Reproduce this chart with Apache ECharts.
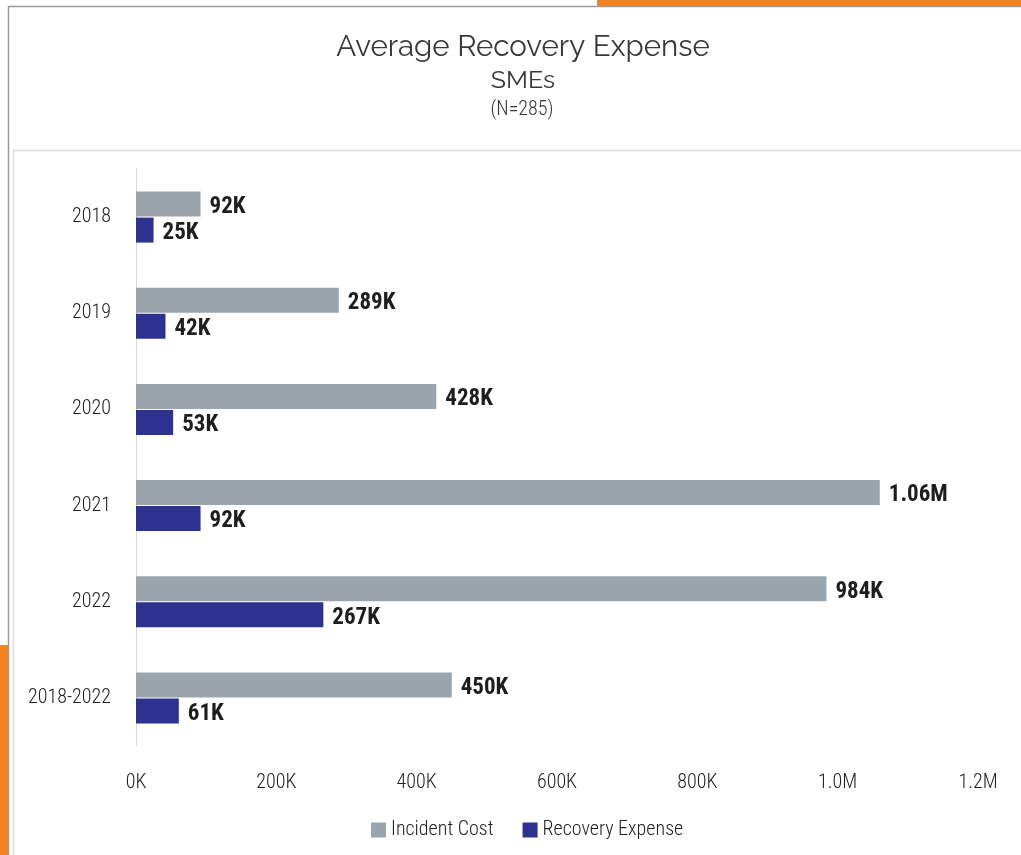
<!DOCTYPE html>
<html>
<head>
<meta charset="utf-8">
<script src="https://cdn.jsdelivr.net/npm/echarts@6/dist/echarts.min.js"></script>
<style>
  html, body { margin: 0; padding: 0; background: #fff; }
  #chart { width: 1021px; height: 855px; }
</style>
</head>
<body>
<div id="chart"></div>
<script>
// Yearly averages for SMEs
const categories = ['2018', '2019', '2020', '2021', '2022', '2018-2022'];
const incidentCost = [92000, 289000, 428000, 1060000, 984000, 450000];
const recoveryExpense = [25000, 42000, 53000, 92000, 267000, 61000];
const xTicks = { min: 0, max: 1200000, interval: 200000 };

const narrow = '"Roboto Condensed", Roboto, sans-serif';
const heading = 'Raleway, Lato, sans-serif';

function fmt(v) {
  if (v >= 1000000) return (v / 1000000).toFixed(2) + 'M';
  return Math.round(v / 1000) + 'K';
}

const chart = echarts.init(document.getElementById('chart'), null, { renderer: 'canvas' });

const valueLabel = {
  show: true,
  position: 'right',
  distance: 9,
  offset: [0, 3],
  fontFamily: narrow,
  fontSize: 23,
  fontWeight: 'bold',
  color: '#1e1e1e',
  formatter: p => fmt(p.value)
};

chart.setOption({
  backgroundColor: '#fff',
  animation: false,
  graphic: [
    // frame lines and accent bars
    { type: 'rect', shape: { x: 597, y: 0, width: 424, height: 6 }, style: { fill: '#F58220' } },
    { type: 'rect', shape: { x: 0, y: 645, width: 8, height: 210 }, style: { fill: '#F58220' } },
    { type: 'line', shape: { x1: 8, y1: 6.5, x2: 1021, y2: 6.5 }, style: { stroke: '#9a9a9a', lineWidth: 1.5 } },
    { type: 'line', shape: { x1: 8.5, y1: 6, x2: 8.5, y2: 855 }, style: { stroke: '#9a9a9a', lineWidth: 1.5 } },
    { type: 'line', shape: { x1: 13.5, y1: 150.5, x2: 1021, y2: 150.5 }, style: { stroke: '#dcdcdc', lineWidth: 1.5 } },
    { type: 'line', shape: { x1: 13.5, y1: 150.5, x2: 13.5, y2: 855 }, style: { stroke: '#dcdcdc', lineWidth: 1.5 } },
    {
      type: 'text',
      style: { text: 'Average Recovery Expense', fontFamily: heading, fontSize: 29.5, fontWeight: 400, fill: '#383838', align: 'center', verticalAlign: 'middle', x: 523, y: 47 }
    },
    {
      type: 'text',
      style: { text: 'SMEs', fontFamily: heading, fontSize: 25, fontWeight: 400, fill: '#383838', align: 'center', verticalAlign: 'middle', x: 523, y: 80 }
    },
    {
      type: 'text',
      style: { text: '(N=285)', fontFamily: narrow, fontSize: 20, fontWeight: 300, fill: '#383838', align: 'center', verticalAlign: 'middle', x: 522, y: 110 }
    }
  ],
  legend: {
    bottom: 10,
    left: 366,
    itemWidth: 15,
    itemHeight: 15,
    itemGap: 29,
    icon: 'rect',
    textStyle: { fontFamily: narrow, fontSize: 20, fontWeight: 300, color: '#222' },
    data: ['Incident Cost', 'Recovery Expense']
  },
  grid: { left: 136, right: 43, top: 169, bottom: 109, containLabel: false },
  xAxis: {
    type: 'value',
    min: xTicks.min,
    max: xTicks.max,
    interval: xTicks.interval,
    axisLine: { show: false },
    axisTick: { show: false },
    splitLine: { show: false },
    axisLabel: {
      margin: 27,
      fontFamily: narrow,
      fontSize: 20,
      fontWeight: 300,
      color: '#222',
      formatter: v => v >= 1000000 ? (v / 1000000).toFixed(1) + 'M' : (v / 1000) + 'K'
    }
  },
  yAxis: {
    type: 'category',
    data: categories,
    inverse: true,
    axisLine: { show: true, lineStyle: { color: '#d9d9d9', width: 1 } },
    axisTick: { show: false },
    axisLabel: { margin: 25, fontFamily: narrow, fontSize: 20, fontWeight: 300, color: '#222' }
  },
  series: [
    {
      name: 'Incident Cost',
      type: 'bar',
      data: incidentCost,
      barWidth: 25,
      barGap: '4%',
      itemStyle: { color: '#9AA5AE' },
      label: valueLabel
    },
    {
      name: 'Recovery Expense',
      type: 'bar',
      data: recoveryExpense,
      barWidth: 25,
      barGap: '4%',
      itemStyle: { color: '#2E3190' },
      label: valueLabel
    }
  ]
});
</script>
</body>
</html>
